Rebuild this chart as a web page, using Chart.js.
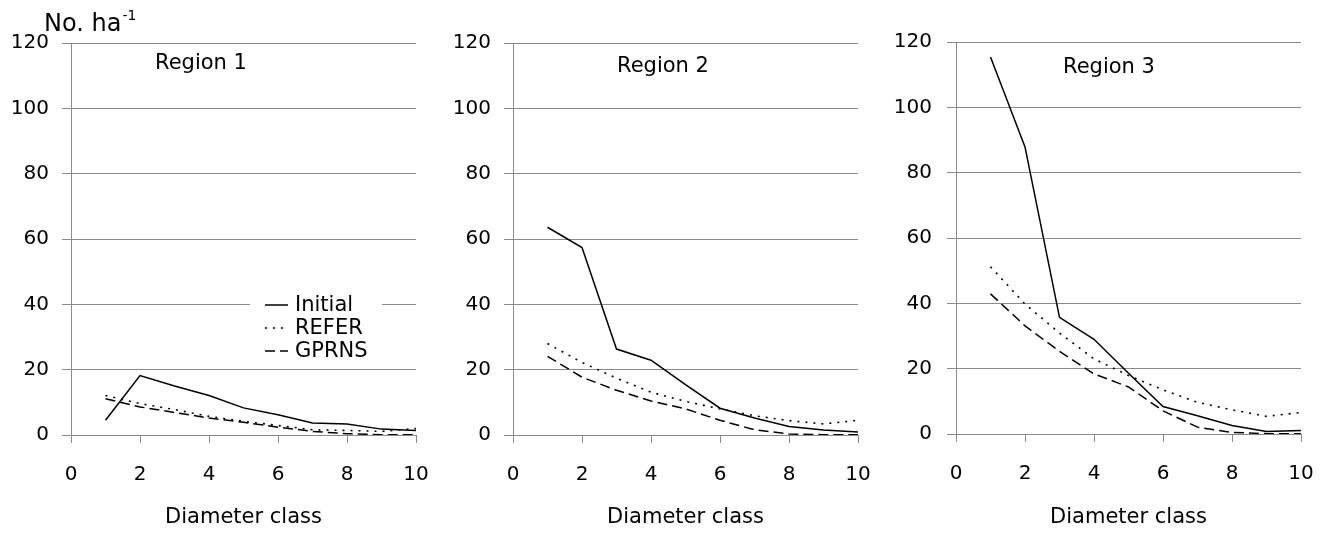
<!DOCTYPE html>
<html><head><meta charset="utf-8">
<script src="https://cdn.jsdelivr.net/npm/chart.js@4.4.0/dist/chart.umd.min.js"></script>
<style>
html,body{margin:0;padding:0;background:#fff;width:1325px;height:546px;overflow:hidden;}
canvas{position:absolute;top:0;}
</style></head><body>
<canvas id="c1" width="440" height="546" style="left:0px"></canvas>
<canvas id="c2" width="440" height="546" style="left:440px"></canvas>
<canvas id="c3" width="445" height="546" style="left:880px"></canvas>
<script>
// ---- data ----
const diameterClasses = [1, 2, 3, 4, 5, 6, 7, 8, 9, 10];
const xTickValues = [0, 2, 4, 6, 8, 10];
const yTickValues = [0, 20, 40, 60, 80, 100, 120];
const seriesNames = ['Initial', 'REFER', 'GPRNS'];
const regionNames = ['Region 1', 'Region 2', 'Region 3'];
const yAxisLabel = 'No. ha';
const yAxisLabelSup = '-1';
const xAxisLabel = 'Diameter class';

const region1Initial = [4.5, 18.2, 15.0, 12.1, 8.3, 6.2, 3.7, 3.4, 1.8, 1.4];
const region1Refer   = [12.1, 9.6, 7.8, 5.7, 4.2, 2.9, 1.6, 1.4, 1.1, 2.0];
const region1Gprns   = [11.1, 8.6, 6.9, 5.2, 3.9, 2.4, 1.1, 0.4, 0.1, 0.1];

const region2Initial = [63.6, 57.4, 26.3, 22.9, 15.4, 8.2, 5.2, 2.6, 1.5, 0.9];
const region2Refer   = [28.0, 22.2, 17.4, 13.1, 10.3, 8.0, 5.9, 4.4, 3.4, 4.5];
const region2Gprns   = [24.1, 17.7, 13.7, 10.4, 8.0, 4.5, 1.6, 0.3, 0.1, 0.1];

const region3Initial = [115.4, 87.9, 35.7, 29.0, 18.6, 8.4, 5.6, 2.6, 0.8, 1.1];
const region3Refer   = [51.2, 39.8, 30.9, 23.0, 17.9, 13.5, 9.7, 7.4, 5.4, 6.6];
const region3Gprns   = [42.9, 33.1, 25.3, 18.4, 14.4, 7.1, 2.1, 0.5, 0.1, 0.1];

// ---- styling ----
const FONT = "'DejaVu Sans', sans-serif";
const GRID = '#8a8a8a';
const lineStyles = [
  { borderDash: [], borderWidth: 1.5 },
  { borderDash: [2, 6], borderWidth: 1.6 },
  { borderDash: [10, 5], borderWidth: 1.5 }
];

function pts(vals) { return diameterClasses.map((x, i) => ({ x: x, y: vals[i] })); }

const decorPlugin = {
  id: 'panelDecor',
  afterDraw(chart, args, opts) {
    const ctx = chart.ctx;
    const ca = chart.chartArea;
    ctx.save();
    ctx.fillStyle = '#000';
    ctx.font = '21px ' + FONT;
    ctx.textAlign = 'center';
    ctx.textBaseline = 'middle';
    ctx.fillText(opts.title, ca.left + opts.titleDx, opts.titleY);
    if (opts.unitLabel) {
      ctx.textAlign = 'left';
      ctx.textBaseline = 'alphabetic';
      ctx.font = '24px ' + FONT;
      ctx.fillText(yAxisLabel, 44, 31);
      const w = ctx.measureText(yAxisLabel).width;
      ctx.font = '14px ' + FONT;
      ctx.fillText(yAxisLabelSup, 44 + w + 1, 20);
    }
    if (opts.legend) {
      const L = opts.legend;
      ctx.fillStyle = '#fff';
      ctx.fillRect(L.x, L.y, L.w, L.h);
      chart.data.datasets.forEach((ds, i) => {
        const yy = L.rowY + i * L.rowGap;
        ctx.beginPath();
        ctx.setLineDash(ds.borderDash || []);
        ctx.lineWidth = ds.borderWidth;
        ctx.strokeStyle = ds.borderColor;
        ctx.moveTo(L.lineX0, yy);
        ctx.lineTo(L.lineX1, yy);
        ctx.stroke();
        ctx.setLineDash([]);
        ctx.fillStyle = '#000';
        ctx.font = '21px ' + FONT;
        ctx.textAlign = 'left';
        ctx.textBaseline = 'middle';
        ctx.fillText(ds.label, L.textX, yy + 1);
      });
    }
    ctx.restore();
  }
};

function makeChart(id, seriesList, cfg) {
  const datasets = seriesList.map((vals, i) => ({
    label: seriesNames[i],
    data: pts(vals),
    borderColor: '#000',
    backgroundColor: '#000',
    borderWidth: lineStyles[i].borderWidth,
    borderDash: lineStyles[i].borderDash,
    pointRadius: 0,
    tension: 0,
    fill: false
  }));
  return new Chart(document.getElementById(id), {
    type: 'line',
    data: { datasets },
    plugins: [decorPlugin],
    options: {
      responsive: false,
      animation: false,
      layout: { padding: { top: cfg.top, right: cfg.right, left: 0, bottom: 0 } },
      plugins: {
        legend: { display: false },
        tooltip: { enabled: false },
        panelDecor: cfg.decor
      },
      scales: {
        x: {
          type: 'linear',
          min: xTickValues[0],
          max: xTickValues[xTickValues.length - 1],
          afterBuildTicks: (s) => { s.ticks = xTickValues.map(v => ({ value: v })); },
          afterFit: (s) => { s.height = cfg.xh; s.paddingLeft = 0; s.paddingRight = 0; },
          ticks: { color: '#000', font: { family: FONT, size: 20 }, padding: 20, maxRotation: 0, autoSkip: false },
          grid: { drawOnChartArea: false, drawTicks: true, tickLength: 8, color: GRID, lineWidth: 1 },
          border: { display: true, color: GRID, width: 1 },
          title: { display: true, text: xAxisLabel, color: '#000', font: { family: FONT, size: 21 }, padding: { top: 0, bottom: 16 } }
        },
        y: {
          type: 'linear',
          min: yTickValues[0],
          max: yTickValues[yTickValues.length - 1],
          afterBuildTicks: (s) => { s.ticks = yTickValues.map(v => ({ value: v })); },
          afterFit: (s) => { s.width = cfg.yw; s.paddingTop = 0; s.paddingBottom = 0; },
          ticks: { color: '#000', font: { family: FONT, size: 20 }, padding: cfg.ypad },
          grid: { drawOnChartArea: true, drawTicks: true, tickLength: 9, color: GRID, lineWidth: 1 },
          border: { display: true, color: GRID, width: 1 }
        }
      }
    }
  });
}

makeChart('c1', [region1Initial, region1Refer, region1Gprns], {
  top: 43, right: 24, xh: 111, yw: 71, ypad: 13,
  decor: {
    title: regionNames[0], titleDx: 130, titleY: 64, unitLabel: true,
    legend: { x: 250, y: 292, w: 132, h: 72, rowY: 305, rowGap: 23, lineX0: 265, lineX1: 288, textX: 295 }
  }
});
makeChart('c2', [region2Initial, region2Refer, region2Gprns], {
  top: 43, right: 22, xh: 111, yw: 73, ypad: 13,
  decor: { title: regionNames[1], titleDx: 150, titleY: 67 }
});
makeChart('c3', [region3Initial, region3Refer, region3Gprns], {
  top: 42, right: 24, xh: 112, yw: 76, ypad: 15,
  decor: { title: regionNames[2], titleDx: 153, titleY: 68 }
});
</script>
</body></html>
